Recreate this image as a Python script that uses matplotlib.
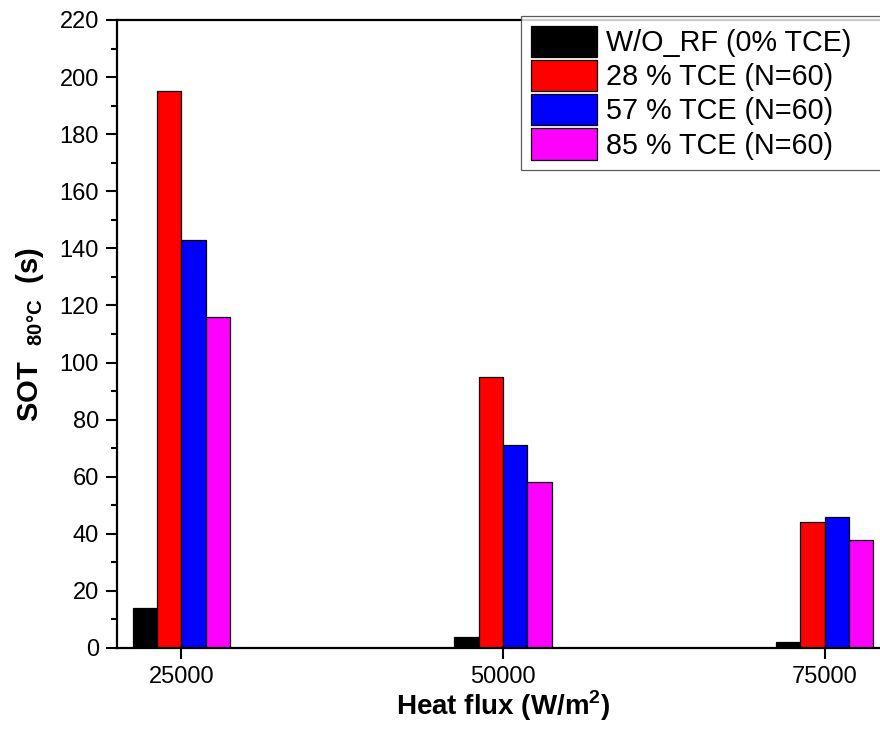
import matplotlib
matplotlib.use("Agg")
import matplotlib.pyplot as plt
import numpy as np
from matplotlib.ticker import MultipleLocator

plt.rcParams['font.family'] = ['Liberation Sans', 'DejaVu Sans']
plt.rcParams['mathtext.fontset'] = 'custom'
plt.rcParams['mathtext.rm'] = 'Liberation Sans'
plt.rcParams['mathtext.bf'] = 'Liberation Sans:bold'

heat_flux = [25000, 50000, 75000]
series_labels = ["W/O_RF (0% TCE)", "28 % TCE (N=60)", "57 % TCE (N=60)", "85 % TCE (N=60)"]
wo_rf = [14, 4, 2]
tce28 = [195, 95, 44]
tce57 = [143, 71, 46]
tce85 = [116, 58, 38]
colors = ["#000000", "#FF0000", "#0000FF", "#FF00FF"]
yticks = list(range(0, 221, 20))

fig = plt.figure(figsize=(8.8, 7.44), dpi=100)
ax = fig.add_axes([117/880, (744-648)/744, (889-117)/880, (648-20)/744])

width = 1890
x = np.array(heat_flux, dtype=float)
offsets = [-1.5, -0.5, 0.5, 1.5]
for vals, off, col, lab in zip([wo_rf, tce28, tce57, tce85], offsets, colors, series_labels):
    ax.bar(x + off*width, vals, width=width, color=col, edgecolor='black', linewidth=0.9, label=lab, zorder=2)

ax.set_xlim(20000, 80000)
ax.set_ylim(0, 220)
ax.set_xticks(heat_flux)
ax.set_xticklabels([str(v) for v in heat_flux])
ax.set_yticks(yticks)
ax.yaxis.set_minor_locator(MultipleLocator(10))

for s in ax.spines.values():
    s.set_linewidth(1.6)
ax.tick_params(axis='both', which='major', direction='out', length=8, width=1.5, labelsize=17, pad=5)
ax.tick_params(axis='y', which='minor', direction='out', length=4.3, width=1.5)
ax.tick_params(axis='x', which='minor', bottom=False)
ax.tick_params(top=False, right=False)

ax.set_xlabel(r'Heat flux (W/m$^{\mathbf{2}}$)', fontsize=20, fontweight='bold', labelpad=0)
ax.set_ylabel(r'SOT  $_{\mathbf{80°C}}$  (s)', fontsize=21, fontweight='bold', labelpad=10)

leg = ax.legend(loc='upper left', bbox_to_anchor=(521/880, (744-23)/744, 400/880, 0.01),
                bbox_transform=fig.transFigure, mode='expand', fontsize=20.7,
                handlelength=2.3, handleheight=1.3, handletextpad=0.32, labelspacing=0.1,
                borderpad=0.35, borderaxespad=0, fancybox=False, frameon=True)
fr = leg.get_frame()
fr.set_edgecolor('#333333')
fr.set_linewidth(0.9)

fig.savefig("out.png", dpi=100)
